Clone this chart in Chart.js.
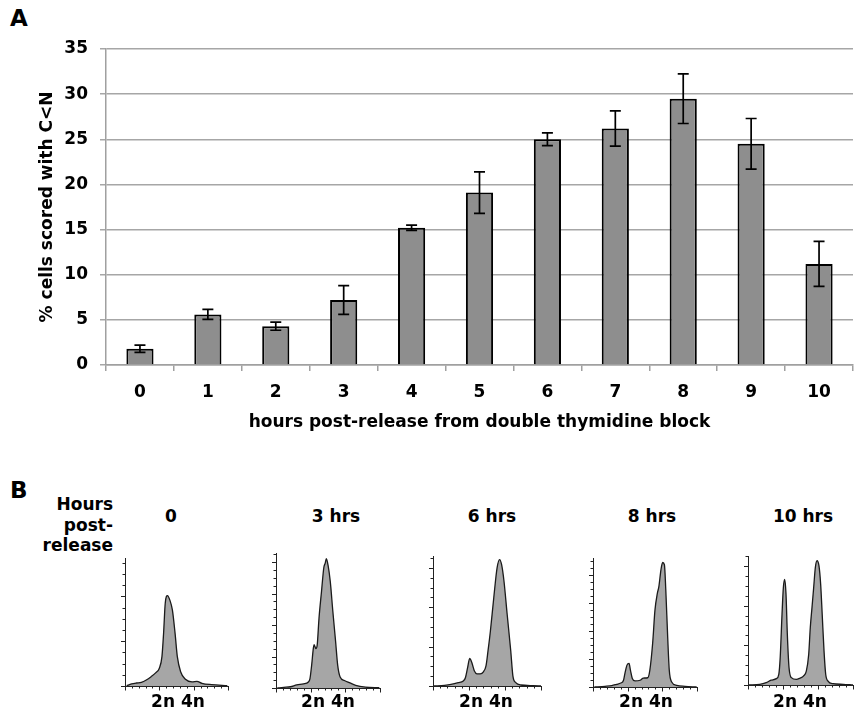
<!DOCTYPE html>
<html>
<head>
<meta charset="utf-8">
<script src="https://cdn.jsdelivr.net/npm/chart.js@4.4.1/dist/chart.umd.min.js"></script>
<style>
  html, body { margin: 0; padding: 0; background: #fff; overflow: hidden; }
  #page { position: relative; width: 854px; height: 717px; overflow: hidden; font-family: 'DejaVu Sans', sans-serif; font-weight: bold; color: #000; }
  .abs { position: absolute; }
  .lbl { position: absolute; font-size: 17px; line-height: 20px; white-space: nowrap; text-align: center; }
  canvas { display: block; }
</style>
</head>
<body>
<div id="page">
  <div class="abs" style="left:10px; top:6px; font-size:23px; line-height:24px;">A</div>
  <div class="abs" style="left:0px; top:0px; width:854px; height:440px;"><canvas id="barChart"></canvas></div>
  <div class="abs" style="left:10px; top:478px; font-size:23px; line-height:24px;">B</div>
  <div class="abs" style="left:0px; top:494px; width:113px; font-size:17px; line-height:20.5px; text-align:right;">Hours<br>post-<br>release</div>
  <div id="histHolder"></div>
</div>
<script>
// ---------- Panel A data ----------
const hourLabels = ['0','1','2','3','4','5','6','7','8','9','10'];
const pctCells   = [1.8, 5.6, 4.3, 7.2, 15.2, 19.1, 25.0, 26.2, 29.5, 24.5, 11.2];
const pctError   = [0.4, 0.55, 0.45, 1.6, 0.3, 2.3, 0.7, 1.95, 2.75, 2.8, 2.5];
const yTitleA = '% cells scored with C<N';
const xTitleA = 'hours post-release from double thymidine block';

// ---------- Panel B data (DNA content histograms, counts) ----------
const histTitles = ['0', '3 hrs', '6 hrs', '8 hrs', '10 hrs'];
const histAxisLabel = '2n 4n';
const histYMax = [286, 429, 330, 460, 325];

const h0x = [0.24,0.95,1.67,2.38,3.1,3.8,4.5,5.0,5.38,5.62,5.86,6.19,6.52,6.9,7.29,7.62,8.1,8.8,9.76,10.48,11.2,12.6,14.9];
const h0y = [0.7,4.5,6.7,8.2,13.4,20.9,29.9,39.6,65.7,118,185,202,192.5,170,118,65.7,32,15,9,10.4,6,3,0.7];

const h1x = [0.19,1.13,2.08,3.0,3.96,4.67,4.9,5.14,5.38,5.5,5.75,5.94,6.2,6.56,6.9,7.1,7.26,7.5,7.83,8.2,8.6,8.9,9.25,9.86,10.57,11.5,12.9,14.9];
const h1y = [0,2,4,10,13,19,30,72,125,138,125,136,221,306,383,397,411,391,338,243,147,72,35,24,17,8.5,3,1];

const h2x = [0.1,1.6,2.5,3.5,4.2,4.5,4.8,5.1,5.4,5.75,6.1,6.56,7.0,7.36,7.64,7.97,8.44,8.9,9.25,9.53,9.86,10.3,10.8,11.1,11.5,12.2,13.9,15];
const h2y = [0,1.7,4,8.5,12.7,21,46,70,59,38,31,31,36,51,89,139,224,300,321,308,266,182,89,25,8.5,2.5,1,0];

const h3x = [0.2,1.73,2.7,3.4,4.0,4.4,4.6,4.9,5.2,5.4,5.67,6.06,6.8,7.26,7.9,8.2,8.6,8.94,9.28,9.5,9.8,10.05,10.3,10.5,10.77,11.0,11.35,12.07,13.27,14.95];
const h3y = [0,2.4,4.8,9.5,14,24,48,78,84,60,30,21.5,24,32,33,60,155,275,334,358,418,444,436,346,179,60,18,6,2.4,0];

const h4x = [0.14,1.67,2.6,3.3,4.05,4.4,4.6,4.86,5.05,5.24,5.43,5.62,5.86,6.2,6.9,7.4,7.95,8.33,8.67,8.9,9.14,9.38,9.62,9.86,10.14,10.38,10.6,10.86,11.1,11.43,12.14,13.6,15];
const h4y = [0,1.7,6,12,16,27,69,178,245,266,229,128,44,18.5,14,17,23,35,77,145,195,245,296,313,300,254,178,86,27,10,3.4,1.7,0];

const histX = [h0x, h1x, h2x, h3x, h4x];
const histY = [h0y, h1y, h2y, h3y, h4y];

Chart.defaults.font.family = "'DejaVu Sans', sans-serif";
Chart.defaults.font.size = 17;
Chart.defaults.font.weight = 'bold';
Chart.defaults.color = '#000';
Chart.defaults.animation = false;

// ---------- Panel A chart ----------
const errorBarPlugin = {
  id: 'errorBars',
  afterDatasetsDraw(chart) {
    const ctx = chart.ctx;
    const meta = chart.getDatasetMeta(0);
    const ys = chart.scales.y;
    ctx.save();
    ctx.strokeStyle = '#000';
    ctx.lineWidth = 1.7;
    meta.data.forEach((bar, i) => {
      const x = bar.x;
      const t = ys.getPixelForValue(pctCells[i] + pctError[i]);
      const b = ys.getPixelForValue(pctCells[i] - pctError[i]);
      const hw = 5.5;
      ctx.beginPath();
      ctx.moveTo(x, t); ctx.lineTo(x, b);
      ctx.moveTo(x - hw, t); ctx.lineTo(x + hw, t);
      ctx.moveTo(x - hw, b); ctx.lineTo(x + hw, b);
      ctx.stroke();
    });
    ctx.restore();
  }
};

new Chart(document.getElementById('barChart'), {
  type: 'bar',
  data: {
    labels: hourLabels,
    datasets: [{
      data: pctCells,
      backgroundColor: '#8e8e8e',
      borderColor: '#000',
      borderWidth: 2,
      barPercentage: 0.4,
      categoryPercentage: 1.0
    }]
  },
  options: {
    responsive: true,
    maintainAspectRatio: false,
    layout: { padding: { top: 49, left: 0, right: 1, bottom: 0 } },
    plugins: { legend: { display: false }, tooltip: { enabled: false } },
    scales: {
      x: {
        grid: { display: true, drawOnChartArea: false, drawTicks: true, tickLength: 6, color: '#a0a0a0', lineWidth: 1.5, offset: true },
        border: { display: true, color: '#a0a0a0', width: 1.5 },
        ticks: { padding: 11, font: { size: 17, weight: 'bold' }, color: '#000', maxRotation: 0 },
        title: { display: true, text: xTitleA, font: { size: 17, weight: 'bold' }, color: '#000', padding: { top: 0, bottom: 7 } },
        afterFit(scale) { scale.height = 75; }
      },
      y: {
        min: 0, max: 35,
        grid: { color: '#a6a6a6', lineWidth: 1.5, drawTicks: true, tickLength: 6 },
        border: { display: true, color: '#a0a0a0', width: 1.5 },
        ticks: { stepSize: 5, padding: 12, font: { size: 17, weight: 'bold' }, color: '#000' },
        title: { display: true, text: yTitleA, font: { size: 17, weight: 'bold' }, color: '#000', padding: { top: 37, bottom: 0 } },
        afterFit(scale) { scale.width = 106; }
      }
    }
  },
  plugins: [errorBarPlugin]
});

// ---------- Panel B charts ----------
// layout: y-axis x, axis top y, axis bottom y, x-axis end x
const histBoxes = [
  [125, 558, 686, 228],
  [276, 553, 688, 380],
  [433, 556, 686, 541],
  [593, 558, 687, 697],
  [748, 556, 685, 853]
];
const titleCenters = [171, 336, 492, 652, 803];
const axisLabelCenters = [178, 328, 486, 646, 800];

const histAxesPlugin = {
  id: 'histAxes',
  afterDraw(chart) {
    const ctx = chart.ctx;
    const xs = chart.scales.x, ys = chart.scales.y;
    const x0 = xs.getPixelForValue(0), y0 = ys.getPixelForValue(0);
    const yTop = ys.getPixelForValue(ys.max), xEnd = xs.getPixelForValue(xs.max);
    ctx.save();
    ctx.strokeStyle = '#222';
    ctx.lineWidth = 1;
    ctx.beginPath();
    ctx.moveTo(x0 + 0.5, yTop); ctx.lineTo(x0 + 0.5, y0 + 0.5);
    ctx.lineTo(xEnd, y0 + 0.5);
    for (let v = 0; v <= ys.max; v += 25) {
      const p = Math.round(ys.getPixelForValue(v)) + 0.5;
      const len = (v % 100 === 0) ? 4 : 2.5;
      ctx.moveTo(x0, p); ctx.lineTo(x0 - len, p);
    }
    for (let v = 0; v <= xs.max; v += 1) {
      const p = Math.round(xs.getPixelForValue(v)) + 0.5;
      const len = (v % 5 === 0) ? 4.5 : 2.5;
      ctx.moveTo(p, y0); ctx.lineTo(p, y0 + len);
    }
    ctx.stroke();
    ctx.restore();
  }
};

const holder = document.getElementById('histHolder');
histBoxes.forEach((b, i) => {
  const [ax, top, bottom, xend] = b;
  const padL = 6, padT = 2, padR = 2, padB = 6;
  const div = document.createElement('div');
  div.className = 'abs';
  div.style.left = (ax - padL) + 'px';
  div.style.top = (top - padT) + 'px';
  div.style.width = (xend - ax + padL + padR) + 'px';
  div.style.height = (bottom - top + padT + padB) + 'px';
  const cv = document.createElement('canvas');
  div.appendChild(cv);
  holder.appendChild(div);

  const t = document.createElement('div');
  t.className = 'lbl';
  t.style.left = (titleCenters[i] - 60) + 'px';
  t.style.width = '120px';
  t.style.top = (516 - 10) + 'px';
  t.textContent = histTitles[i];
  holder.appendChild(t);

  const l = document.createElement('div');
  l.className = 'lbl';
  l.style.left = (axisLabelCenters[i] - 60) + 'px';
  l.style.width = '120px';
  l.style.top = (701 - 10) + 'px';
  l.textContent = histAxisLabel;
  holder.appendChild(l);

  new Chart(cv, {
    type: 'line',
    data: {
      datasets: [{
        data: histX[i].map((x, k) => ({ x: x, y: histY[i][k] })),
        borderColor: '#1a1a1a',
        borderWidth: 1.3,
        backgroundColor: '#a6a6a6',
        fill: 'origin',
        pointRadius: 0,
        cubicInterpolationMode: 'monotone'
      }]
    },
    options: {
      responsive: true,
      maintainAspectRatio: false,
      layout: { padding: { left: padL, top: padT, right: padR, bottom: padB } },
      plugins: { legend: { display: false }, tooltip: { enabled: false } },
      scales: {
        x: { type: 'linear', min: 0, max: 15, display: false },
        y: { min: 0, max: histYMax[i], display: false }
      }
    },
    plugins: [histAxesPlugin]
  });
});
</script>
</body>
</html>
